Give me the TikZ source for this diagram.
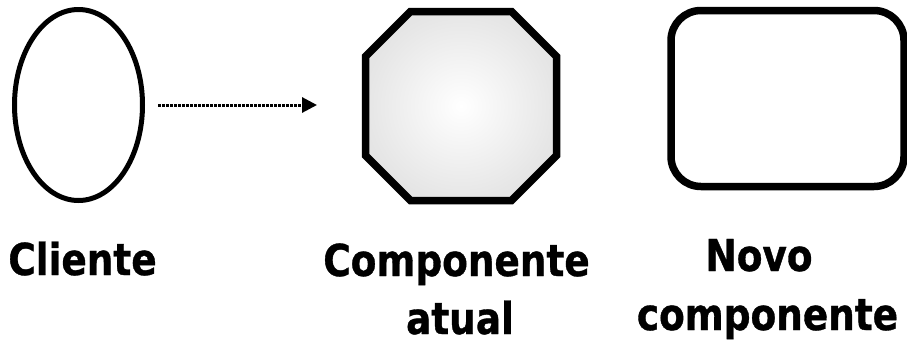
\documentclass[tikz,border=0pt]{standalone}
\usepackage{fontspec}
\newfontfamily\rotulofont{DejaVu Sans}[FakeStretch=0.85,FakeBold=0.8]
\usetikzlibrary{shapes.geometric,arrows.meta}
\begin{document}
\begin{tikzpicture}[x=1pt,y=-1pt]
    \tikzstyle{rotulo}=[inner sep=0pt, anchor=base, font=\rotulofont\bfseries\fontsize{44}{52}\selectfont]
    \tikzstyle{grosso}=[line width=7.5pt]
    \useasboundingbox (0,0) rectangle (907,341);
    \node[ellipse, draw, line width=5pt, minimum width=128pt, minimum height=191pt, inner sep=0pt] (cliente) at (78.5,105) {};
    % octogono
    \coordinate (atualW) at (365.5,105);
    \shadedraw[grosso, inner color=white, outer color=black!10] (365.5,56.5) -- (410.5,11.5) -- (511.5,11.5) -- (556.5,56.5) -- (556.5,155.5) -- (511.5,200.5) -- (410.5,200.5) -- (365.5,155.5) -- cycle;
    \node[draw, grosso, rounded corners=30pt, minimum width=233pt, minimum height=176pt] (novo) at (787.5,98.5) {};
    \draw[line width=3pt, dash pattern=on 3pt off 1pt, -{Triangle[length=15pt,width=15pt]}, shorten <=13pt, shorten >=48.5pt] (cliente.east) -- (atualW);
    \node[rotulo] (rcliente) at (82.5,275) {Cliente};
    \node[rotulo] (rcomp1) at (456.5,276) {Componente};
    \node[rotulo] (rcomp2) at (460,334) {atual};
    \node[rotulo] (rnovo1) at (759,271) {Novo};
    \node[rotulo] (rnovo2) at (767.5,330) {componente};
  \end{tikzpicture}
\end{document}
